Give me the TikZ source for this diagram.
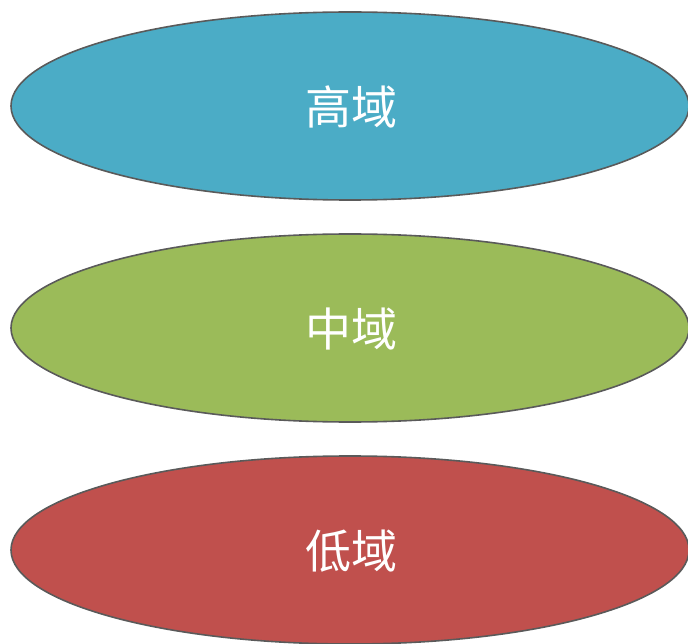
\documentclass[tikz,border=0pt]{standalone}
\usepackage{fontspec}
\newfontfamily\cjk{Noto Sans CJK SC}
\usetikzlibrary{shapes.geometric}
\definecolor{cblue}{HTML}{4BACC6}
\definecolor{cgreen}{HTML}{9BBB59}
\definecolor{cred}{HTML}{C0504D}
\definecolor{cline}{HTML}{5A5A5A}
\begin{document}
\begin{tikzpicture}[x=1pt,y=-1pt,
  zone/.style={ellipse, draw=cline, line width=1.6pt, minimum width=678pt, minimum height=188pt, inner sep=0pt},
  zonelabel/.style={text=white, font=\cjk\fontsize{46}{50}\selectfont}]
\useasboundingbox (0,0) rectangle (688,644);
\node[zone, fill=cblue] (high) at (350,106) {};
\node[zone, fill=cgreen] (mid) at (350,328) {};
\node[zone, fill=cred] (low) at (350,550) {};
\node[zonelabel] (thigh) at (351,107) {高域};
\node[zonelabel] (tmid) at (351,329) {中域};
\node[zonelabel] (tlow) at (351,551) {低域};
\end{tikzpicture}
\end{document}
